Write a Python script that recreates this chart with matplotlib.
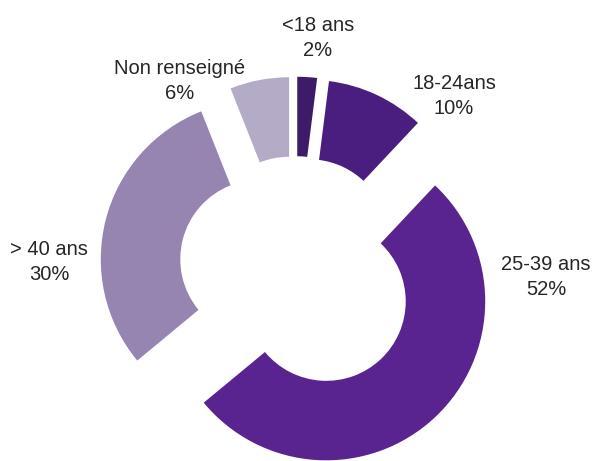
import matplotlib.pyplot as plt

# Répartition par âge
categories = ["<18 ans", "18-24ans", "25-39 ans", "> 40 ans", "Non renseigné"]
values = [2, 10, 52, 30, 6]

colors = ["#3e1b68", "#4a1e7e", "#5a2490", "#9685b1", "#b4abc7"]
explode = [0.205, 0.205, 0.285, 0.23, 0.205]
# label centres, in pixels of the 596x461 image
label_pos = [(318, 38), (454, 96), (546, 277), (49, 262), (180, 81)]

W, H = 596, 461
px = 159.0           # outer radius in pixels
cx, cy = 295.2, 268.3  # pie centre in pixels

plt.rcParams['font.family'] = ['Liberation Sans', 'DejaVu Sans']

fig = plt.figure(figsize=(W / 100, H / 100), dpi=100)
ax = fig.add_axes([0, 0, 1, 1])

ax.pie(values, colors=colors, explode=explode, startangle=90,
       counterclock=False, radius=1,
       wedgeprops=dict(width=0.5, linewidth=0))

ax.set_xlim(-cx / px, (W - cx) / px)
ax.set_ylim(-(H - cy) / px, cy / px)
ax.set_aspect('auto')
ax.axis('off')

for cat, val, (x, y) in zip(categories, values, label_pos):
    ax.text(x / W, 1 - y / H, f"{cat}\n{val}%", transform=ax.transAxes,
            ha='center', va='center', multialignment='center',
            fontsize=14.5, color='#262626', linespacing=1.4)

fig.savefig("out.png", dpi=100)
